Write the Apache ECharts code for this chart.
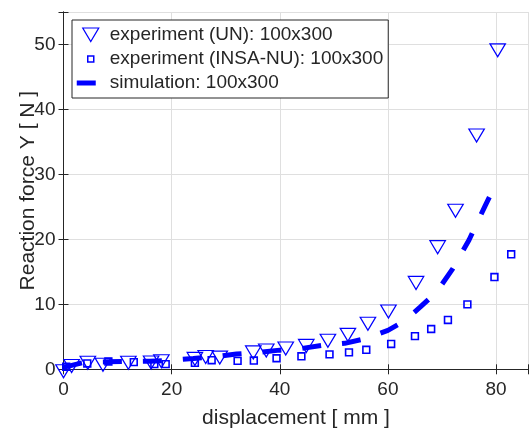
<!DOCTYPE html>
<html><head><meta charset="utf-8">
<script src="https://cdn.jsdelivr.net/npm/echarts@6/dist/echarts.min.js"></script>
<style>html,body{margin:0;padding:0;background:#fff}#c{width:530px;height:432px}</style>
</head><body><div id="c"></div>
<script>
// ---- data ----
const unX  = [0, 1.5, 4.5, 7.3, 12.0, 16.2, 18.1, 24.3, 26.3, 28.9, 35.1, 37.5, 41.1, 44.9, 48.9, 52.6, 56.3, 60.1, 65.2, 69.2, 72.5, 76.4, 80.3];
const unY  = [-0.3, 0.5, 1.0, 0.7, 1.0, 1.05, 1.25, 1.6, 1.9, 1.8, 2.6, 2.9, 3.2, 3.6, 4.4, 5.3, 7.0, 8.9, 13.3, 18.8, 24.4, 36.0, 49.1];
const insaX = [0.5, 4.4, 8.3, 13.0, 16.8, 18.9, 24.3, 27.4, 32.2, 35.2, 39.4, 44.0, 49.2, 52.8, 56.0, 60.6, 65.0, 68.0, 71.1, 74.7, 79.7, 82.8];
const insaY = [0.4, 0.9, 1.2, 1.1, 0.8, 0.8, 1.0, 1.4, 1.3, 1.35, 1.7, 2.0, 2.3, 2.6, 3.0, 3.9, 5.1, 6.2, 7.6, 10.0, 14.2, 17.7];
const simX = [0, 4, 8, 12, 16, 20, 24, 28, 32, 36, 40, 44, 48, 52, 56, 60, 63, 66, 69, 72, 75, 78, 80];
const simY = [0.3, 1.1, 1.15, 1.2, 1.25, 1.4, 1.65, 1.95, 2.35, 2.6, 2.95, 3.2, 3.7, 4.0, 4.75, 6.0, 7.4, 9.6, 11.9, 15.5, 19.9, 25.2, 28.6];
const seriesNames = ['experiment (UN): 100x300', 'experiment (INSA-NU): 100x300', 'simulation: 100x300'];
const xTicks = [0, 20, 40, 60, 80];
const yTicks = [0, 10, 20, 30, 40, 50];
const xName = 'displacement [ mm ]';
const yName = 'Reaction force Y [ N ]';

// ---- chart ----
const FONT = '"Liberation Sans", Arial, Helvetica, sans-serif';
const TXT = '#262626';
const BLUE = '#0000ff';
const CLEAR = 'rgba(0,0,0,0)';
const X_MIN = 0, X_MAX = 86, X_INT = 20;
const Y_MIN = 0, Y_MAX = 55, Y_INT = 10;
const triPath = 'path://M0,0L16,0L8,13.5Z';
const triLegend = 'path://M6,0L22,0L14,13.5Z M0,0 M28,14';
const sqLegend = 'path://M11,4L17,4L17,10L11,10Z M0,0 M28,14';
const barLegend = 'path://M0,4.5L19,4.5L19,9.5L0,9.5Z M0,0 M28,14';

const zip = (a, b) => a.map((v, i) => [v, b[i]]);
const chart = echarts.init(document.getElementById('c'), null, {renderer: 'canvas'});

const baseAxis = {
  axisLine: {show: true, lineStyle: {color: TXT, width: 1}},
  axisTick: {show: true, inside: true, length: 5, lineStyle: {color: TXT, width: 1}},
};

chart.setOption({
  animation: false,
  backgroundColor: '#fff',
  grid: {left: 63.5, top: 12, width: 465, height: 357.3, containLabel: false, outerBoundsMode: 'none'},
  xAxis: [
    Object.assign({}, baseAxis, {
      type: 'value', min: X_MIN, max: X_MAX, interval: X_INT, position: 'bottom',
      name: xName, nameLocation: 'middle', nameGap: 38,
      nameTextStyle: {fontFamily: FONT, fontSize: 21, color: TXT},
      axisLabel: {fontFamily: FONT, fontSize: 19, color: TXT, margin: 11,
        formatter: v => xTicks.includes(v) ? String(v) : ''},
      splitLine: {show: true, lineStyle: {color: '#dfdfdf', width: 1}}
    }),
    Object.assign({}, baseAxis, {
      type: 'value', min: X_MIN, max: X_MAX, interval: X_INT, position: 'top',
      axisLabel: {show: false}, splitLine: {show: false}
    })
  ],
  yAxis: [
    Object.assign({}, baseAxis, {
      type: 'value', min: Y_MIN, max: Y_MAX, interval: Y_INT, position: 'left',
      name: yName, nameLocation: 'middle', nameGap: 25, nameMoveOverlap: false,
      nameTextStyle: {fontFamily: FONT, fontSize: 21, color: TXT},
      axisLabel: {fontFamily: FONT, fontSize: 19, color: TXT, margin: 8,
        formatter: v => yTicks.includes(v) ? String(v) : ''},
      splitLine: {show: true, lineStyle: {color: '#dfdfdf', width: 1}}
    }),
    Object.assign({}, baseAxis, {
      type: 'value', min: Y_MIN, max: Y_MAX, interval: Y_INT, position: 'right',
      axisLabel: {show: false}, splitLine: {show: false}
    })
  ],
  legend: {
    orient: 'vertical', left: 72, top: 20,
    padding: [5, 5, 5, 4],
    itemWidth: 28, itemHeight: 14, itemGap: 4,
    borderColor: TXT, borderWidth: 1, backgroundColor: '#fff',
    selectedMode: false,
    textStyle: {fontFamily: FONT, fontSize: 19, color: TXT, lineHeight: 20},
    data: [
      {name: seriesNames[0], icon: triLegend,
        itemStyle: {color: CLEAR, borderColor: BLUE, borderWidth: 1.2}},
      {name: seriesNames[1], icon: sqLegend,
        itemStyle: {color: CLEAR, borderColor: BLUE, borderWidth: 1.5}},
      {name: seriesNames[2], icon: barLegend,
        itemStyle: {color: BLUE, borderColor: CLEAR, borderWidth: 0}}
    ]
  },
  series: [
    {
      name: seriesNames[0], type: 'scatter', clip: false,
      data: zip(unX, unY),
      symbol: triPath, symbolSize: [15.5, 13],
      itemStyle: {color: CLEAR, borderColor: BLUE, borderWidth: 1.2, opacity: 1},
      z: 3
    },
    {
      name: seriesNames[1], type: 'scatter', clip: false,
      data: zip(insaX, insaY),
      symbol: 'rect', symbolSize: 6.8,
      itemStyle: {color: CLEAR, borderColor: BLUE, borderWidth: 1.6, opacity: 1},
      z: 3
    },
    {
      name: seriesNames[2], type: 'line', clip: false,
      data: zip(simX, simY),
      symbol: 'none', showSymbol: false, smooth: false,
      lineStyle: {color: BLUE, width: 5, type: [19, 21], cap: 'butt'},
      itemStyle: {color: BLUE},
      z: 4
    }
  ]
});
</script>
</body></html>
